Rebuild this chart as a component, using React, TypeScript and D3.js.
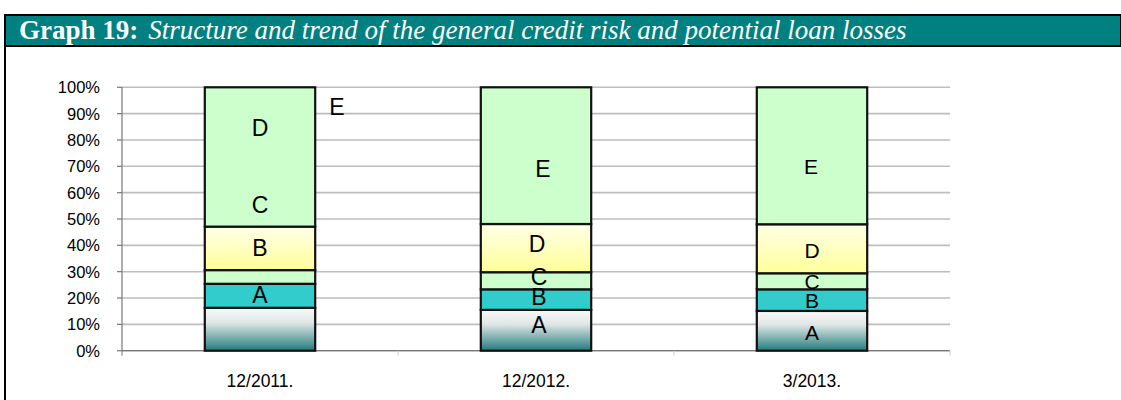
import React from "react";
import * as d3 from "d3";

const categories = ["12/2011.", "12/2012.", "3/2013."];
const seriesNames = ["A", "B", "C", "D", "E"];
const valuesA = [16.3, 15.5, 15.1];
const valuesB = [9.1, 7.8, 8.2];
const valuesC = [5.2, 6.5, 6.1];
const valuesD = [16.5, 18.3, 18.6];
const valuesE = [52.9, 51.9, 52.0];
// label anchors (in % of axis) as they appear in the source chart
const labelA = [21.4, 9.8, 7.0];
const labelB = [39.1, 20.5, 19.2];
const labelC = [55.3, 28.0, 26.3];
const labelD = [84.8, 40.8, 38.2];
const labelE = [92.6, 69.0, 69.9];
const yTicks = [0, 10, 20, 30, 40, 50, 60, 70, 80, 90, 100];

const W = 1121;
const H = 400;
const plot = { left: 122, right: 950, top: 87.3, bottom: 350.7 };

export default function App() {
  const x = d3.scaleBand<string>().domain(categories).range([plot.left, plot.right]).paddingInner(0.6).paddingOuter(0.3);
  const xOuter = d3.scaleBand<string>().domain(categories).range([plot.left, plot.right]);
  const y = d3.scaleLinear().domain([0, 100]).range([plot.bottom, plot.top]);

  const table = categories.map((c, i) => ({
    cat: c,
    A: valuesA[i],
    B: valuesB[i],
    C: valuesC[i],
    D: valuesD[i],
    E: valuesE[i],
  }));
  const stacked = d3.stack<any>().keys(seriesNames)(table);
  const labels = [labelA, labelB, labelC, labelD, labelE];
  const fills = ["url(#gradA)", "#33cccc", "#ccffcc", "url(#gradD)", "#ccffcc"];
  const labelSize = [23, 23, 21];
  const labelDx = [[0, 0, 0, 0, 77], [3, 3, 3, 1, 7], [0, 0, 0, 0, -1]];

  return (
    <div style={{ position: "absolute", left: 0, top: 0, width: W, height: H, background: "#fff" }}>
      <svg width={W} height={H} style={{ display: "block" }}>
        <defs>
          <linearGradient id="gradA" x1="0" y1="0" x2="0" y2="1">
            <stop offset="0" stopColor="#fafafa" />
            <stop offset="0.35" stopColor="#dfe6e6" />
            <stop offset="1" stopColor="#237c7c" />
          </linearGradient>
          <linearGradient id="gradD" x1="0" y1="0" x2="0" y2="1">
            <stop offset="0" stopColor="#ffffe8" />
            <stop offset="1" stopColor="#ffff99" />
          </linearGradient>
        </defs>
        {/* header */}
        <rect x={5} y={15} width={W - 5} height={31} fill="#008080" stroke="#000" strokeWidth={2} />
        <line x1={5} y1={46} x2={5} y2={H} stroke="#000" strokeWidth={2} />
        <text x={19} y={38.5} fill="#fff" fontFamily="'Liberation Serif', 'Times New Roman', serif" fontSize={27}>
          <tspan fontWeight="bold">Graph 19:</tspan>
          <tspan dx={10} fontStyle="italic">Structure and trend of the general credit risk and potential loan losses</tspan>
        </text>
        {/* gridlines */}
        {yTicks.map((t) => (
          <line key={"g" + t} x1={plot.left} x2={plot.right} y1={y(t)} y2={y(t)} stroke="#bdbdbd" strokeWidth={1.6} />
        ))}
        {/* y axis */}
        <line x1={plot.left} x2={plot.left} y1={plot.top} y2={plot.bottom} stroke="#777" strokeWidth={1.2} />
        {yTicks.map((t) => (
          <g key={"t" + t}>
            <line x1={plot.left - 5} x2={plot.left} y1={y(t)} y2={y(t)} stroke="#777" strokeWidth={1.2} />
            <text
              x={100}
              y={y(t)}
              dy="0.36em"
              textAnchor="end"
              fontFamily="'Liberation Sans', Arial, sans-serif"
              fontSize={16.5}
              fill="#000"
            >
              {t + "%"}
            </text>
          </g>
        ))}
        {/* x axis */}
        <line x1={plot.left} x2={plot.right} y1={plot.bottom} y2={plot.bottom} stroke="#777" strokeWidth={1.2} />
        {[plot.left, ...categories.map((c) => (xOuter(c) as number) + xOuter.bandwidth())].map((px, i) => (
          <line key={"xt" + i} x1={px} x2={px} y1={plot.bottom} y2={plot.bottom + 5} stroke={i === 0 ? "#777" : "#ccc"} strokeWidth={1} />
        ))}
        {categories.map((c) => (
          <text
            key={"xl" + c}
            x={(xOuter(c) as number) + xOuter.bandwidth() / 2}
            y={387}
            textAnchor="middle"
            fontFamily="'Liberation Sans', Arial, sans-serif"
            fontSize={17.5}
            fill="#000"
          >
            {c}
          </text>
        ))}
        {/* bars */}
        {stacked.map((s, si) =>
          s.map((d, ci) => (
            <rect
              key={"b" + si + "-" + ci}
              x={x(categories[ci]) as number}
              y={y(d[1])}
              width={x.bandwidth()}
              height={y(d[0]) - y(d[1])}
              fill={fills[si]}
              stroke="#111"
              strokeWidth={2.2}
            />
          ))
        )}
        {/* labels */}
        {labels.map((arr, si) =>
          arr.map((v, ci) => (
            <text
              key={"l" + si + "-" + ci}
              x={(x(categories[ci]) as number) + x.bandwidth() / 2 + labelDx[ci][si]}
              y={y(v)}
              dy="0.36em"
              textAnchor="middle"
              fontFamily="'Liberation Sans', Arial, sans-serif"
              fontSize={labelSize[ci]}
              fill="#000"
            >
              {seriesNames[si]}
            </text>
          ))
        )}
      </svg>
    </div>
  );
}
